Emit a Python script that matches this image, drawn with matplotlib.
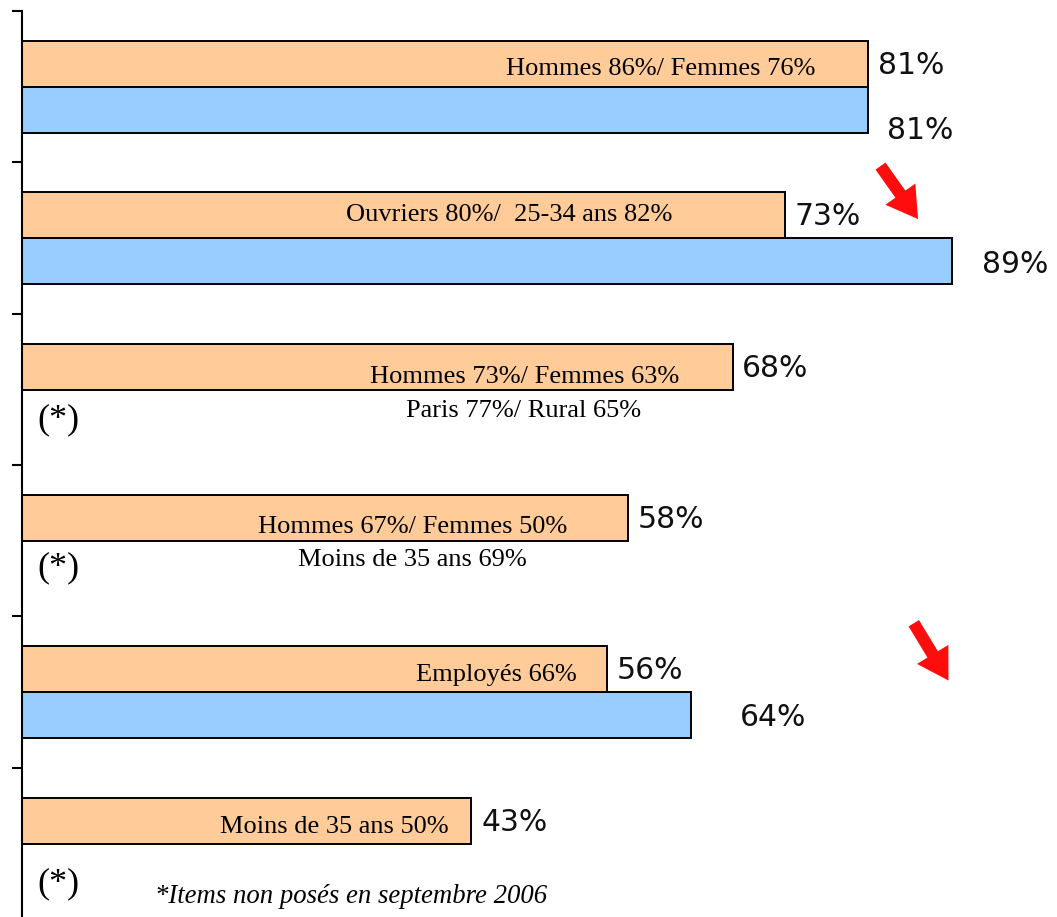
import numpy as np
import matplotlib
matplotlib.use('Agg')
from matplotlib import pyplot as plt

# values (6 items, top to bottom)
orange_vals = [81, 73, 68, 58, 56, 43]
blue_vals = [81, 89, np.nan, np.nan, 64, np.nan]

# notes printed inside / below the bars
notes = ['Hommes 86%/ Femmes 76%', 'Ouvriers 80%/  25-34 ans 82%',
         'Hommes 73%/ Femmes 63%', 'Paris 77%/ Rural 65%',
         'Hommes 67%/ Femmes 50%', 'Moins de 35 ans 69%',
         'Employés 66%', 'Moins de 35 ans 50%']
footnote = '*Items non posés en septembre 2006'

# layout of the notes (x right edge in %, y in category units)
note_pos = [(75.9, 0.38), (62.2, 1.35), (62.9, 2.42), (59.2, 2.64),
            (52.2, 3.41), (48.3, 3.63), (53.1, 4.39), (40.8, 5.39)]
star_pos = [2.70, 3.68, 5.77]
# pixel offsets for the blue value labels
blue_off = [(19, -21), (30, -3), None, None, (49, -2), None]

orange = '#FFCC99'
blue = '#99CCFF'

fig = plt.figure(figsize=(10.57, 9.17), dpi=100)
ax = fig.add_axes([22 / 1057, -2 / 917, 1045 / 1057, 908 / 917])

cats = np.arange(len(orange_vals))
bar_h = 0.304
ax.barh(cats + 0.35, orange_vals, height=bar_h, color=orange,
        edgecolor='black', linewidth=1.4)
ax.barh(cats + 0.654, blue_vals, height=bar_h, color=blue,
        edgecolor='black', linewidth=1.4)

ax.set_xlim(0, 100)
ax.set_ylim(6, 0)

for sp in ['top', 'right', 'bottom']:
    ax.spines[sp].set_visible(False)
ax.spines['left'].set_linewidth(1.5)
ax.set_xticks([])
ax.set_yticks(range(0, 7))
ax.set_yticklabels([])
ax.tick_params(axis='y', direction='out', length=7.5, width=1.5)

pct_font = dict(family='DejaVu Sans', fontsize=21.5, color='#111111')
for i, v in enumerate(orange_vals):
    ax.annotate('%d%%' % v, (v, i + 0.35), xytext=(7, -1),
                textcoords='offset points', va='center', ha='left',
                **pct_font)
for i, v in enumerate(blue_vals):
    if np.isnan(v):
        continue
    dx, dy = blue_off[i]
    ax.annotate('%d%%' % v, (v, i + 0.654), xytext=(dx * 0.72, dy * 0.72),
                textcoords='offset points', va='center', ha='left',
                **pct_font)

serif = dict(family='Liberation Serif', fontsize=19, color='black')
for txt, (x, y) in zip(notes, note_pos):
    ax.text(x, y, txt, ha='right', va='center', **serif)

for y in star_pos:
    ax.text(1.5, y, '(*)', ha='left', va='center',
            family='Liberation Serif', fontsize=26)
ax.text(12.7, 5.85, footnote, ha='left', va='center', style='italic',
        family='Liberation Serif', fontsize=19.3)

# red arrows
arrow = dict(arrowstyle='simple,head_width=1.2,head_length=1.0,tail_width=0.4',
             color='#FF0000', lw=0, alpha=0.95, mutation_scale=22)
ax.annotate('', xy=(85.9, 1.39), xytext=(82.0, 1.01), arrowprops=arrow,
            annotation_clip=False)
ax.annotate('', xy=(88.8, 4.44), xytext=(85.2, 4.03), arrowprops=arrow,
            annotation_clip=False)

fig.savefig('out.png', dpi=100)
